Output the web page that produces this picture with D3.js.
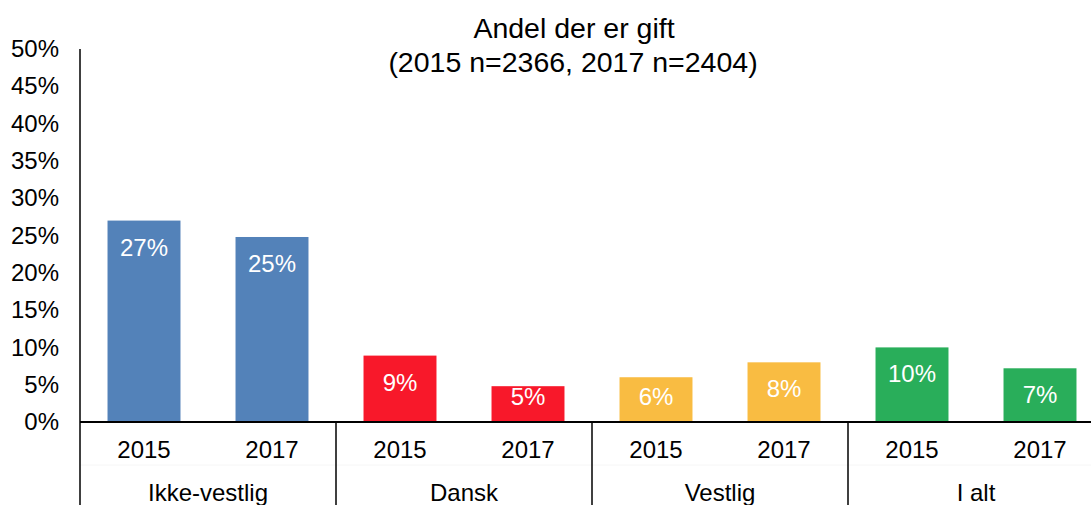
<!DOCTYPE html>
<html>
<head>
<meta charset="utf-8">
<script src="https://cdn.jsdelivr.net/npm/d3@7"></script>
<style>
  body { margin: 0; background: #fff; }
  svg { display: block; font-family: "Liberation Sans", Arial, sans-serif; }
</style>
</head>
<body>
<div id="chart"></div>
<script>
// data
const categories = ["Ikke-vestlig", "Dansk", "Vestlig", "I alt"];
const years = ["2015", "2017"];
const values2015 = [27.0, 8.9, 6.0, 10.0];
const values2017 = [24.8, 4.8, 8.0, 7.2];
const labels2015 = ["27%", "9%", "6%", "10%"];
const labels2017 = ["25%", "5%", "8%", "7%"];
const catColors = ["#5382b9", "#f8182a", "#f9bc42", "#29ae5a"];
const yTicks = [0, 5, 10, 15, 20, 25, 30, 35, 40, 45, 50];
const titleLines = ["Andel der er gift", "(2015 n=2366, 2017 n=2404)"];

const width = 1091, height = 505;
const margin = { top: 49, left: 80 };
const baseY = 422;
const groupW = 256;

const rows = [];
categories.forEach((c, i) => {
  rows.push({ cat: c, year: "2015", value: values2015[i], label: labels2015[i], color: catColors[i] });
  rows.push({ cat: c, year: "2017", value: values2017[i], label: labels2017[i], color: catColors[i] });
});

const svg = d3.select("#chart").append("svg")
  .attr("width", width)
  .attr("height", height);

const x0 = d3.scaleBand()
  .domain(categories)
  .range([margin.left, margin.left + groupW * categories.length])
  .padding(0);

const x1 = d3.scaleBand()
  .domain(years)
  .range([0, x0.bandwidth()])
  .paddingInner(0.43)
  .paddingOuter(0.215);

const y = d3.scaleLinear()
  .domain([0, 50])
  .range([baseY, margin.top]);

// title
svg.append("text")
  .attr("x", 574)
  .attr("y", 38)
  .attr("text-anchor", "middle")
  .attr("font-size", "28.5px")
  .text(titleLines[0]);
svg.append("text")
  .attr("x", 573)
  .attr("y", 72)
  .attr("text-anchor", "middle")
  .attr("font-size", "28.5px")
  .text(titleLines[1]);

// y axis labels
const yAxis = d3.axisLeft(y)
  .tickValues(yTicks)
  .tickSize(0)
  .tickPadding(21)
  .tickFormat(d => d + "%");

const yg = svg.append("g")
  .attr("transform", `translate(${margin.left},0)`)
  .call(yAxis);
yg.select(".domain").remove();
yg.selectAll("text")
  .attr("font-size", "24px")
  .attr("font-family", "Liberation Sans, Arial, sans-serif")
  .attr("fill", "#000");

// bars
svg.append("g")
  .selectAll("rect")
  .data(rows)
  .join("rect")
  .attr("x", d => x0(d.cat) + x1(d.year))
  .attr("y", d => y(d.value))
  .attr("width", x1.bandwidth())
  .attr("height", d => y(0) - y(d.value))
  .attr("fill", d => d.color);

// value labels (inside end, clamped within the bar)
svg.append("g")
  .selectAll("text")
  .data(rows)
  .join("text")
  .attr("x", d => x0(d.cat) + x1(d.year) + x1.bandwidth() / 2)
  .attr("y", d => Math.min(y(d.value) + 35, y(0) - 17))
  .attr("text-anchor", "middle")
  .attr("font-size", "24px")
  .attr("fill", "#fff")
  .text(d => d.label);

// faint level divider
svg.append("line")
  .attr("x1", margin.left).attr("x2", width)
  .attr("y1", 465).attr("y2", 465)
  .attr("stroke", "#f6f6f6")
  .attr("stroke-width", 1);

// axis lines
svg.append("line")
  .attr("x1", margin.left).attr("x2", margin.left)
  .attr("y1", margin.top).attr("y2", height)
  .attr("stroke", "#000")
  .attr("stroke-width", 1.5);

svg.append("line")
  .attr("x1", margin.left).attr("x2", width)
  .attr("y1", baseY).attr("y2", baseY)
  .attr("stroke", "#000")
  .attr("stroke-width", 2);

// group separators
svg.append("g")
  .selectAll("line")
  .data(categories.slice(1))
  .join("line")
  .attr("x1", d => x0(d)).attr("x2", d => x0(d))
  .attr("y1", baseY).attr("y2", height)
  .attr("stroke", "#000")
  .attr("stroke-width", 1.5);

// year labels
svg.append("g")
  .selectAll("text")
  .data(rows)
  .join("text")
  .attr("x", d => x0(d.cat) + x1(d.year) + x1.bandwidth() / 2)
  .attr("y", 458)
  .attr("text-anchor", "middle")
  .attr("font-size", "24px")
  .text(d => d.year);

// category labels
svg.append("g")
  .selectAll("text")
  .data(categories)
  .join("text")
  .attr("x", d => x0(d) + x0.bandwidth() / 2)
  .attr("y", 501)
  .attr("text-anchor", "middle")
  .attr("font-size", "24px")
  .text(d => d);
</script>
</body>
</html>
